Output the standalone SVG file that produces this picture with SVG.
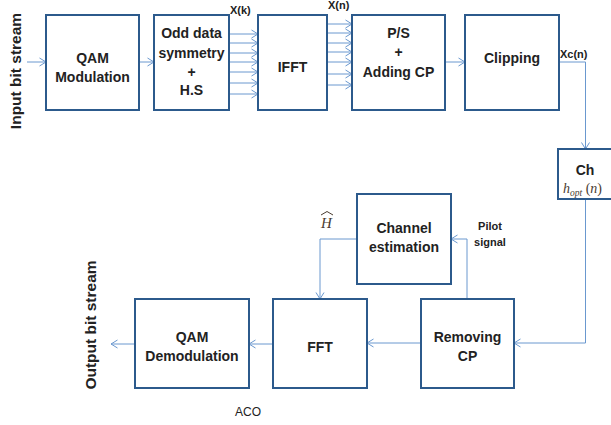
<svg xmlns="http://www.w3.org/2000/svg" width="611" height="425" viewBox="0 0 611 425">
  <style>
    .box { fill: #ffffff; stroke: #2C5A8C; stroke-width: 2; }
    .lbl { font-family: "Liberation Sans", Arial, sans-serif; font-weight: bold; font-size: 14px; fill: #222222; text-anchor: middle; }
    .sm { font-family: "Liberation Sans", Arial, sans-serif; font-weight: bold; font-size: 11px; fill: #222222; }
    .side { font-family: "Liberation Sans", Arial, sans-serif; font-weight: bold; font-size: 15.5px; fill: #222222; text-anchor: middle; }
    .math { font-family: "Liberation Serif", "DejaVu Serif", serif; font-style: italic; fill: #4a3c30; }
    .wire { fill: none; stroke: #6A98CF; stroke-width: 1; }
  </style>
  <defs>
    <marker id="arr" viewBox="0 0 10 10" refX="9.5" refY="5" markerWidth="10" markerHeight="10" markerUnits="userSpaceOnUse" orient="auto">
      <path d="M3,1 L9.5,5 L3,9" fill="none" stroke="#6A98CF" stroke-width="1"/>
    </marker>
  </defs>

  <!-- side captions -->
  <text class="side" transform="translate(21,71) rotate(-90)">Input bit stream</text>
  <text class="side" transform="translate(96,325) rotate(-90)">Output bit stream</text>

  <!-- connectors -->
  <g id="connectors" class="wire">
    <line x1="27" y1="62" x2="46" y2="62" marker-end="url(#arr)"/>
    <line x1="139" y1="62" x2="154" y2="62" marker-end="url(#arr)"/>
    <!-- parallel lines into IFFT -->
    <line x1="229" y1="34" x2="258" y2="34" marker-end="url(#arr)"/>
    <line x1="229" y1="43" x2="258" y2="43" marker-end="url(#arr)"/>
    <line x1="229" y1="53" x2="258" y2="53" marker-end="url(#arr)"/>
    <line x1="229" y1="62" x2="258" y2="62" marker-end="url(#arr)"/>
    <line x1="229" y1="72" x2="258" y2="72" marker-end="url(#arr)"/>
    <line x1="229" y1="83" x2="258" y2="83" marker-end="url(#arr)"/>
    <line x1="229" y1="94" x2="258" y2="94" marker-end="url(#arr)"/>
    <!-- parallel lines into P/S -->
    <line x1="327" y1="24" x2="352" y2="24" marker-end="url(#arr)"/>
    <line x1="327" y1="33" x2="352" y2="33" marker-end="url(#arr)"/>
    <line x1="327" y1="43" x2="352" y2="43" marker-end="url(#arr)"/>
    <line x1="322" y1="52" x2="352" y2="52" marker-end="url(#arr)"/>
    <line x1="327" y1="62" x2="352" y2="62" marker-end="url(#arr)"/>
    <line x1="327" y1="74" x2="352" y2="74" marker-end="url(#arr)"/>
    <line x1="327" y1="85" x2="352" y2="85" marker-end="url(#arr)"/>
    <line x1="445" y1="62" x2="465" y2="62" marker-end="url(#arr)"/>
    <!-- clipping to channel -->
    <polyline points="559,62 585.5,62 585.5,149" marker-end="url(#arr)"/>
    <!-- channel to removing CP -->
    <polyline points="585.5,199 585.5,343 514,343" marker-end="url(#arr)"/>
    <!-- pilot signal -->
    <polyline points="467,299 467,239 451,239" marker-end="url(#arr)"/>
    <!-- channel estimate to FFT -->
    <polyline points="357,239 320,239 320,299" marker-end="url(#arr)"/>
    <line x1="421" y1="343" x2="367" y2="343" marker-end="url(#arr)"/>
    <line x1="273" y1="344" x2="249" y2="344" marker-end="url(#arr)"/>
    <line x1="135" y1="344" x2="111" y2="344" marker-end="url(#arr)"/>
  </g>

  <!-- connector labels -->
  <text class="sm" x="230" y="14">X(k)</text>
  <text class="sm" x="328" y="9">X(n)</text>
  <text class="sm" x="560" y="58">Xc(n)</text>
  <text class="sm" x="490" y="230" text-anchor="middle">Pilot</text>
  <text class="sm" x="490" y="246" text-anchor="middle">signal</text>
  <g id="hhat">
    <text class="math" x="321" y="228" font-size="15">H</text>
    <path d="M321,215 L327,211.5 L333,215" fill="none" stroke="#4a3c30" stroke-width="1"/>
  </g>

  <g id="qam_mod">
    <rect class="box" x="46" y="15" width="93" height="95"/>
    <text class="lbl" x="92.5" y="63">QAM</text>
    <text class="lbl" x="92.5" y="82">Modulation</text>
  </g>
  <g id="odd_sym">
    <rect class="box" x="154" y="15" width="75" height="95"/>
    <text class="lbl" x="191.5" y="38">Odd data</text>
    <text class="lbl" x="191.5" y="58">symmetry</text>
    <text class="lbl" x="191.5" y="77">+</text>
    <text class="lbl" x="191.5" y="95">H.S</text>
  </g>
  <g id="ifft">
    <rect class="box" x="258" y="15" width="69" height="95"/>
    <text class="lbl" x="292.5" y="72">IFFT</text>
  </g>
  <g id="ps_cp">
    <rect class="box" x="352" y="15" width="93" height="95"/>
    <text class="lbl" x="398.5" y="38">P/S</text>
    <text class="lbl" x="398.5" y="57">+</text>
    <text class="lbl" x="398.5" y="77">Adding CP</text>
  </g>
  <g id="clipping">
    <rect class="box" x="465" y="15" width="94" height="95"/>
    <text class="lbl" x="512" y="63">Clipping</text>
  </g>
  <g id="channel">
    <rect class="box" x="558" y="149" width="56" height="50"/>
    <text class="lbl" x="585" y="175">Ch</text>
    <text class="math" x="563" y="193" font-size="14">h<tspan font-size="9.5" dy="2.5">opt</tspan><tspan dy="-2.5" font-style="normal"> (</tspan>n<tspan font-style="normal">)</tspan></text>
  </g>
  <g id="chan_est">
    <rect class="box" x="357" y="194" width="94" height="90"/>
    <text class="lbl" x="404" y="233">Channel</text>
    <text class="lbl" x="404" y="252">estimation</text>
  </g>
  <g id="remove_cp">
    <rect class="box" x="421" y="299" width="93" height="89"/>
    <text class="lbl" x="467.5" y="342">Removing</text>
    <text class="lbl" x="467.5" y="361">CP</text>
  </g>
  <g id="fft">
    <rect class="box" x="273" y="299" width="94" height="89"/>
    <text class="lbl" x="320" y="352">FFT</text>
  </g>
  <g id="qam_demod">
    <rect class="box" x="135" y="299" width="114" height="89"/>
    <text class="lbl" x="192" y="342">QAM</text>
    <text class="lbl" x="192" y="361">Demodulation</text>
  </g>

  <text x="248" y="416" font-family="'Liberation Sans', Arial, sans-serif" font-size="12" fill="#222222" text-anchor="middle">ACO</text>
</svg>
